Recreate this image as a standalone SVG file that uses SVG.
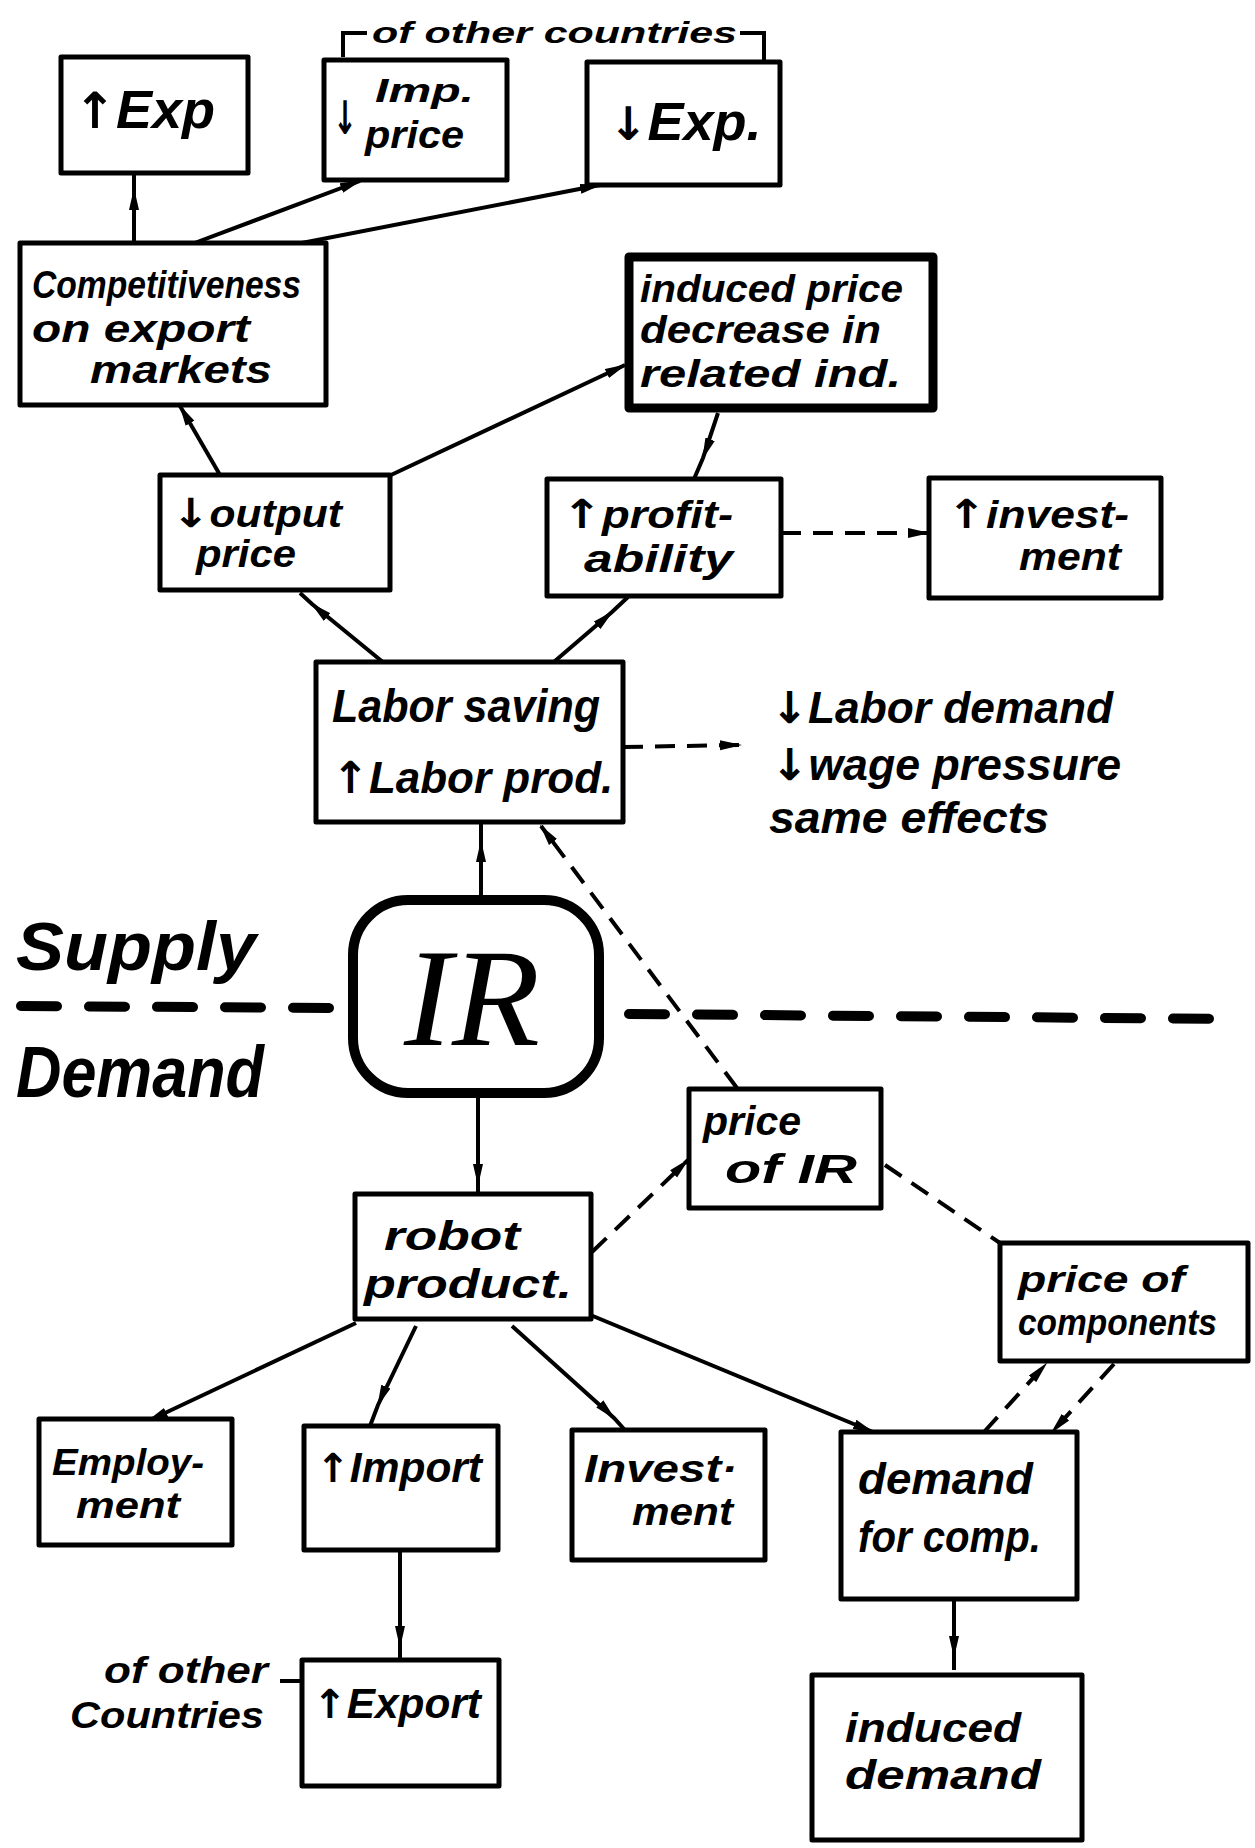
<svg xmlns="http://www.w3.org/2000/svg" width="1255" height="1848" viewBox="0 0 1255 1848">
<defs>
<style>
.box{fill:#fff;stroke:#000;stroke-width:5;stroke-linejoin:round}
.thick{stroke-width:9}
.t{font-family:"Liberation Sans",sans-serif;font-style:italic;font-weight:bold;fill:#000}
.a{font-family:"DejaVu Sans",sans-serif;font-style:normal;font-weight:bold;fill:#000}
.ir{font-family:"Liberation Serif",serif;font-style:italic;font-size:140px;fill:#000}
.c{stroke:#000;stroke-width:4;fill:none}
.d{stroke-dasharray:20 12}
.sd{stroke:#000;stroke-width:10;fill:none;stroke-linecap:round;stroke-dasharray:36 32}
</style>
<marker id="ah" markerWidth="22" markerHeight="12" refX="20" refY="6" orient="auto" markerUnits="userSpaceOnUse"><path d="M0,1 L22,6 L0,11 z" fill="#000"/></marker>
</defs>

<!-- supply / demand divider -->
<g id="divider">
<line class="sd" x1="21" y1="1006" x2="332" y2="1008"/>
<line class="sd" x1="629" y1="1014" x2="1237" y2="1019"/>
<text class="t" x="16" y="970" font-size="68" textLength="240" lengthAdjust="spacingAndGlyphs">Supply</text>
<text class="t" x="16" y="1097" font-size="72" textLength="248" lengthAdjust="spacingAndGlyphs">Demand</text>
</g>

<g id="connectors">
<path class="c" d="M134,247 L134,190 L134,173" marker-mid="url(#ah)"/>
<path class="c" d="M184,247 L360,181" marker-end="url(#ah)"/>
<path class="c" d="M276,248 L600,185" marker-end="url(#ah)"/>
<path class="c" d="M220,475 L180,406" marker-end="url(#ah)"/>
<path class="c" d="M391,475 L625,365" marker-end="url(#ah)"/>
<path class="c" d="M718,413 L703,458 L694,479" marker-mid="url(#ah)"/>
<path class="c" d="M384,663 L312,604 L300,593" marker-mid="url(#ah)"/>
<path class="c" d="M548,667 L612,612 L628,597" marker-mid="url(#ah)"/>
<path class="c d" d="M781,533 L928,533" marker-end="url(#ah)"/>
<path class="c d" d="M623,747 L740,745" marker-end="url(#ah)"/>
<path class="c" d="M481,895 L481,842 L481,822" marker-mid="url(#ah)"/>
<path class="c d" d="M737,1088 L541,826" marker-end="url(#ah)"/>
<path class="c" d="M478,1098 L478,1184 L478,1194" marker-mid="url(#ah)"/>
<path class="c d" d="M592,1252 L688,1160" marker-end="url(#ah)"/>
<path class="c d" d="M885,1165 L1000,1243"/>
<path class="c" d="M356,1323 L148,1421" marker-end="url(#ah)"/>
<path class="c" d="M416,1326 L378,1405 L370,1426" marker-mid="url(#ah)"/>
<path class="c" d="M512,1326 L614,1418 L624,1429" marker-mid="url(#ah)"/>
<path class="c" d="M588,1314 L873,1432" marker-end="url(#ah)"/>
<path class="c" d="M400,1550 L400,1646 L400,1660" marker-mid="url(#ah)"/>
<path class="c" d="M954,1599 L954,1656 L954,1670" marker-mid="url(#ah)"/>
<path class="c d" d="M984,1432 L1046,1364" marker-end="url(#ah)"/>
<path class="c d" d="M1114,1364 L1052,1432" marker-end="url(#ah)"/>
<path class="c" d="M343,57 L343,33 L367,33 M740,33 L764,33 L764,60"/>
<path class="c" d="M280,1681 L302,1681"/>
</g>

<g id="n-exp-up">
<rect class="box" x="61" y="57" width="187" height="116"/>
<text class="t" x="74" y="128" font-size="54"><tspan class="a" font-size="50">↑</tspan>Exp</text>
</g>

<g id="n-imp-price">
<rect class="box" x="324" y="60" width="183" height="120"/>
<text class="a" x="333" y="134" font-size="46" textLength="24" lengthAdjust="spacingAndGlyphs">↓</text>
<text class="t" x="375" y="102" font-size="34" textLength="99" lengthAdjust="spacingAndGlyphs">Imp.</text>
<text class="t" x="365" y="148" font-size="38" textLength="99" lengthAdjust="spacingAndGlyphs">price</text>
</g>

<g id="n-exp-down">
<rect class="box" x="587" y="62" width="193" height="123"/>
<text class="t" x="609" y="140" font-size="54"><tspan class="a" font-size="46">↓</tspan>Exp.</text>
</g>

<g id="n-other-countries-top">
<text class="t" x="372" y="43" font-size="30" textLength="365" lengthAdjust="spacingAndGlyphs">of other countries</text>
</g>

<g id="n-competitiveness">
<rect class="box" x="20" y="243" width="306" height="162"/>
<text class="t" x="32" y="298" font-size="38" textLength="269" lengthAdjust="spacingAndGlyphs">Competitiveness</text>
<text class="t" x="32" y="342" font-size="38" textLength="218" lengthAdjust="spacingAndGlyphs">on export</text>
<text class="t" x="90" y="383" font-size="38" textLength="182" lengthAdjust="spacingAndGlyphs">markets</text>
</g>

<g id="n-induced-price">
<rect class="box thick" x="629" y="257" width="304" height="151"/>
<text class="t" x="640" y="302" font-size="38" textLength="263" lengthAdjust="spacingAndGlyphs">induced price</text>
<text class="t" x="640" y="343" font-size="38" textLength="241" lengthAdjust="spacingAndGlyphs">decrease in</text>
<text class="t" x="640" y="387" font-size="38" textLength="261" lengthAdjust="spacingAndGlyphs">related ind.</text>
</g>

<g id="n-output-price">
<rect class="box" x="160" y="475" width="230" height="115"/>
<text class="t" x="172" y="527" font-size="38" textLength="170" lengthAdjust="spacingAndGlyphs"><tspan class="a" font-size="40">↓</tspan>output</text>
<text class="t" x="196" y="567" font-size="38" textLength="100" lengthAdjust="spacingAndGlyphs">price</text>
</g>

<g id="n-profitability">
<rect class="box" x="547" y="479" width="234" height="117"/>
<text class="t" x="562" y="528" font-size="38" textLength="171" lengthAdjust="spacingAndGlyphs"><tspan class="a" font-size="40">↑</tspan>profit-</text>
<text class="t" x="584" y="572" font-size="38" textLength="149" lengthAdjust="spacingAndGlyphs">ability</text>
</g>

<g id="n-investment-top">
<rect class="box" x="929" y="478" width="232" height="120"/>
<text class="t" x="947" y="528" font-size="38" textLength="182" lengthAdjust="spacingAndGlyphs"><tspan class="a" font-size="40">↑</tspan>invest-</text>
<text class="t" x="1019" y="570" font-size="38" textLength="102" lengthAdjust="spacingAndGlyphs">ment</text>
</g>

<g id="n-labor-saving">
<rect class="box" x="316" y="662" width="307" height="160"/>
<text class="t" x="332" y="722" font-size="46" textLength="268" lengthAdjust="spacingAndGlyphs">Labor saving</text>
<text class="t" x="332" y="793" font-size="44"><tspan class="a" font-size="44">↑</tspan>Labor prod.</text>
</g>

<g id="n-labor-effects">
<text class="t" x="771" y="723" font-size="44" textLength="342" lengthAdjust="spacingAndGlyphs"><tspan class="a">↓</tspan>Labor demand</text>
<text class="t" x="771" y="780" font-size="44" textLength="350" lengthAdjust="spacingAndGlyphs"><tspan class="a">↓</tspan>wage pressure</text>
<text class="t" x="769" y="833" font-size="44" textLength="280" lengthAdjust="spacingAndGlyphs">same effects</text>
</g>

<g id="n-ir">
<rect x="353" y="900" width="246" height="193" rx="55" ry="55" fill="#fff" stroke="#000" stroke-width="10"/>
<text class="ir" x="404" y="1045" textLength="136" lengthAdjust="spacingAndGlyphs">IR</text>
</g>

<g id="n-price-ir">
<rect class="box" x="689" y="1089" width="192" height="119"/>
<text class="t" x="703" y="1135" font-size="40" textLength="98" lengthAdjust="spacingAndGlyphs">price</text>
<text class="t" x="725" y="1183" font-size="40" textLength="132" lengthAdjust="spacingAndGlyphs">of IR</text>
</g>

<g id="n-robot">
<rect class="box" x="355" y="1194" width="236" height="125"/>
<text class="t" x="384" y="1250" font-size="41" textLength="136" lengthAdjust="spacingAndGlyphs">robot</text>
<text class="t" x="364" y="1298" font-size="41" textLength="208" lengthAdjust="spacingAndGlyphs">product.</text>
</g>

<g id="n-price-components">
<rect class="box" x="1000" y="1243" width="248" height="118"/>
<text class="t" x="1018" y="1292" font-size="37" textLength="167" lengthAdjust="spacingAndGlyphs">price of</text>
<text class="t" x="1018" y="1335" font-size="37" textLength="199" lengthAdjust="spacingAndGlyphs">components</text>
</g>

<g id="n-employment">
<rect class="box" x="39" y="1419" width="193" height="126"/>
<text class="t" x="52" y="1475" font-size="37" textLength="152" lengthAdjust="spacingAndGlyphs">Employ-</text>
<text class="t" x="76" y="1518" font-size="37" textLength="104" lengthAdjust="spacingAndGlyphs">ment</text>
</g>

<g id="n-import">
<rect class="box" x="304" y="1426" width="194" height="124"/>
<text class="t" x="316" y="1482" font-size="42" textLength="166" lengthAdjust="spacingAndGlyphs"><tspan class="a" font-size="40">↑</tspan>Import</text>
</g>

<g id="n-investment-bottom">
<rect class="box" x="572" y="1430" width="193" height="130"/>
<text class="t" x="584" y="1482" font-size="38" textLength="153" lengthAdjust="spacingAndGlyphs">Invest·</text>
<text class="t" x="632" y="1525" font-size="38" textLength="101" lengthAdjust="spacingAndGlyphs">ment</text>
</g>

<g id="n-demand-comp">
<rect class="box" x="841" y="1432" width="236" height="167"/>
<text class="t" x="858" y="1494" font-size="45" textLength="175" lengthAdjust="spacingAndGlyphs">demand</text>
<text class="t" x="858" y="1552" font-size="45" textLength="183" lengthAdjust="spacingAndGlyphs">for comp.</text>
</g>

<g id="n-export">
<rect class="box" x="302" y="1660" width="197" height="126"/>
<text class="t" x="313" y="1718" font-size="42" textLength="168" lengthAdjust="spacingAndGlyphs"><tspan class="a" font-size="40">↑</tspan>Export</text>
</g>

<g id="n-other-countries-bottom">
<text class="t" x="104" y="1683" font-size="37" textLength="164" lengthAdjust="spacingAndGlyphs">of other</text>
<text class="t" x="70" y="1728" font-size="37" textLength="194" lengthAdjust="spacingAndGlyphs">Countries</text>
</g>

<g id="n-induced-demand">
<rect class="box" x="812" y="1675" width="270" height="165" stroke-width="10"/>
<text class="t" x="845" y="1742" font-size="41" textLength="176" lengthAdjust="spacingAndGlyphs">induced</text>
<text class="t" x="845" y="1789" font-size="41" textLength="196" lengthAdjust="spacingAndGlyphs">demand</text>
</g>
</svg>
